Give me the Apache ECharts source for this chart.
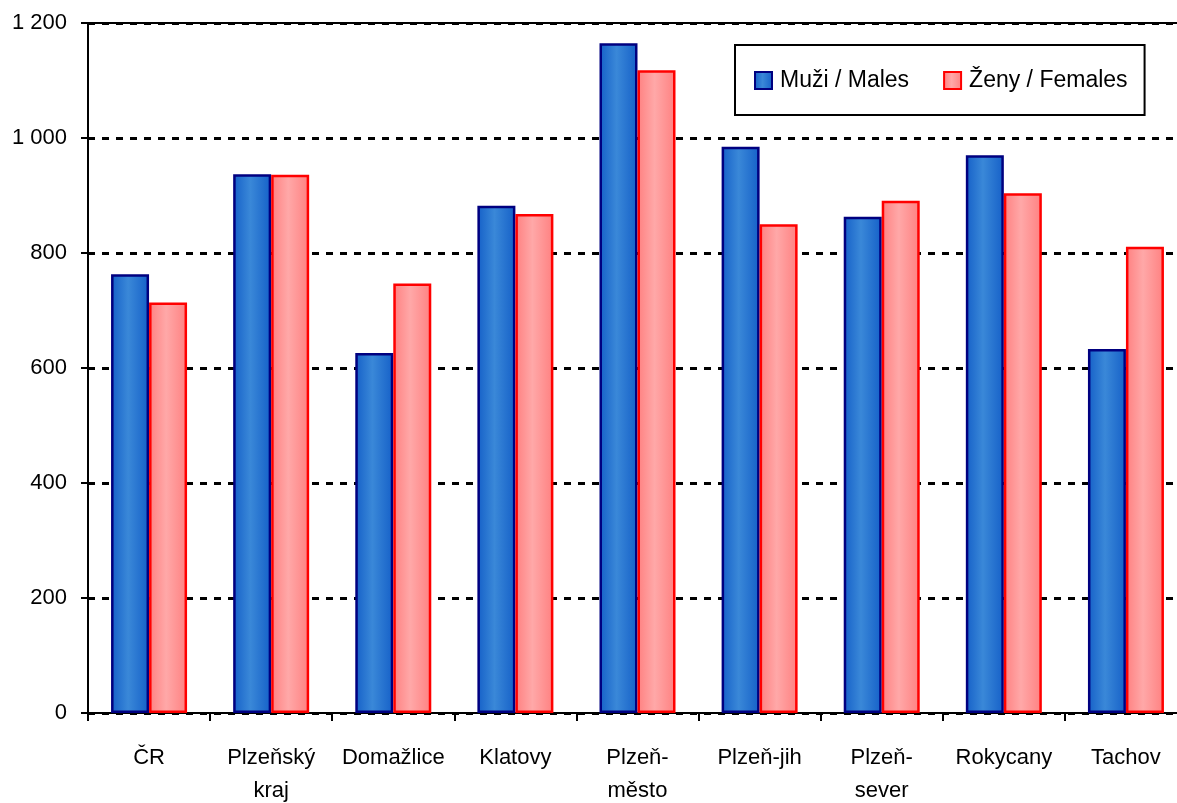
<!DOCTYPE html>
<html>
<head>
<meta charset="utf-8">
<script src="https://cdn.jsdelivr.net/npm/echarts@6/dist/echarts.min.js"></script>
<style>
	html, body { margin: 0; padding: 0; background: #fff; }
	#chart { width: 1177px; height: 803px; }
</style>
</head>
<body>
<div id="chart"></div>
<script>
// 数据
var categories = ['ČR', 'Plzeňský\nkraj', 'Domažlice', 'Klatovy', 'Plzeň-\nměsto', 'Plzeň-jih', 'Plzeň-\nsever', 'Rokycany', 'Tachov'];
var males = [763, 937, 626, 882, 1165, 985, 863, 970, 633];
var females = [714, 936, 747, 868, 1118, 850, 891, 904, 811];
var seriesNames = ['Muži / Males', 'Ženy / Females'];

var font = 'Liberation Sans, Arial, sans-serif';

function barGradient(edge, mid) {
	return new echarts.graphic.LinearGradient(0, 0, 1, 0, [
		{ offset: 0, color: edge },
		{ offset: 0.45, color: mid },
		{ offset: 1, color: edge }
	]);
}

var myChart = echarts.init(document.getElementById('chart'));
var option = {
	animation: false,
	grid: { left: 88, top: 23, right: -10, bottom: 90, containLabel: false, outerBoundsMode: 'none' },
	legend: {
		orient: 'horizontal',
		left: 735,
		top: 45,
		width: 420,
		padding: [24, 17, 23, 19],
		itemGap: 34,
		itemWidth: 17,
		itemHeight: 17,
		icon: 'rect',
		borderColor: '#000',
		borderWidth: 2,
		borderRadius: 0,
		textStyle: { color: '#000', fontFamily: font, fontSize: 23, padding: [0, 0, 0, 3] },
		data: seriesNames
	},
	xAxis: [{
		type: 'category',
		data: categories,
		axisLine: { lineStyle: { color: '#000', width: 2 } },
		axisTick: { show: true, length: 8, lineStyle: { color: '#000', width: 2 } },
		axisLabel: { color: '#000', fontFamily: font, fontSize: 22, margin: 28, lineHeight: 33, interval: 0 }
	}, {
		type: 'category',
		position: 'top',
		data: categories,
		axisLine: { show: true, lineStyle: { color: '#000', width: 2 } },
		axisTick: { show: false },
		axisLabel: { show: false }
	}],
	yAxis: {
		type: 'value',
		min: 0,
		max: 1200,
		interval: 200,
		axisLine: { show: true, lineStyle: { color: '#000', width: 2 } },
		axisTick: { show: true, length: 7, lineStyle: { color: '#000', width: 2 } },
		axisLabel: {
			color: '#000', fontFamily: font, fontSize: 22, margin: 21,
			formatter: function (v) {
				return String(v).replace(/\B(?=(\d{3})+(?!\d))/g, ' ');
			}
		},
		splitLine: { show: true, lineStyle: { color: '#000', width: 3, type: [7, 7] } }
	},
	series: [{
		name: seriesNames[0],
		type: 'bar',
		data: males,
		barWidth: 38,
		barGap: '0%',
		itemStyle: {
			color: barGradient('#1560c8', '#3a88d8'),
			borderColor: '#000080',
			borderWidth: 2.5
		}
	}, {
		name: seriesNames[1],
		type: 'bar',
		data: females,
		barWidth: 38,
		barGap: '0%',
		itemStyle: {
			color: barGradient('#ff8080', '#ffa8a8'),
			borderColor: '#ff0000',
			borderWidth: 2.5
		}
	}]
};
myChart.setOption(option);
</script>
</body>
</html>
